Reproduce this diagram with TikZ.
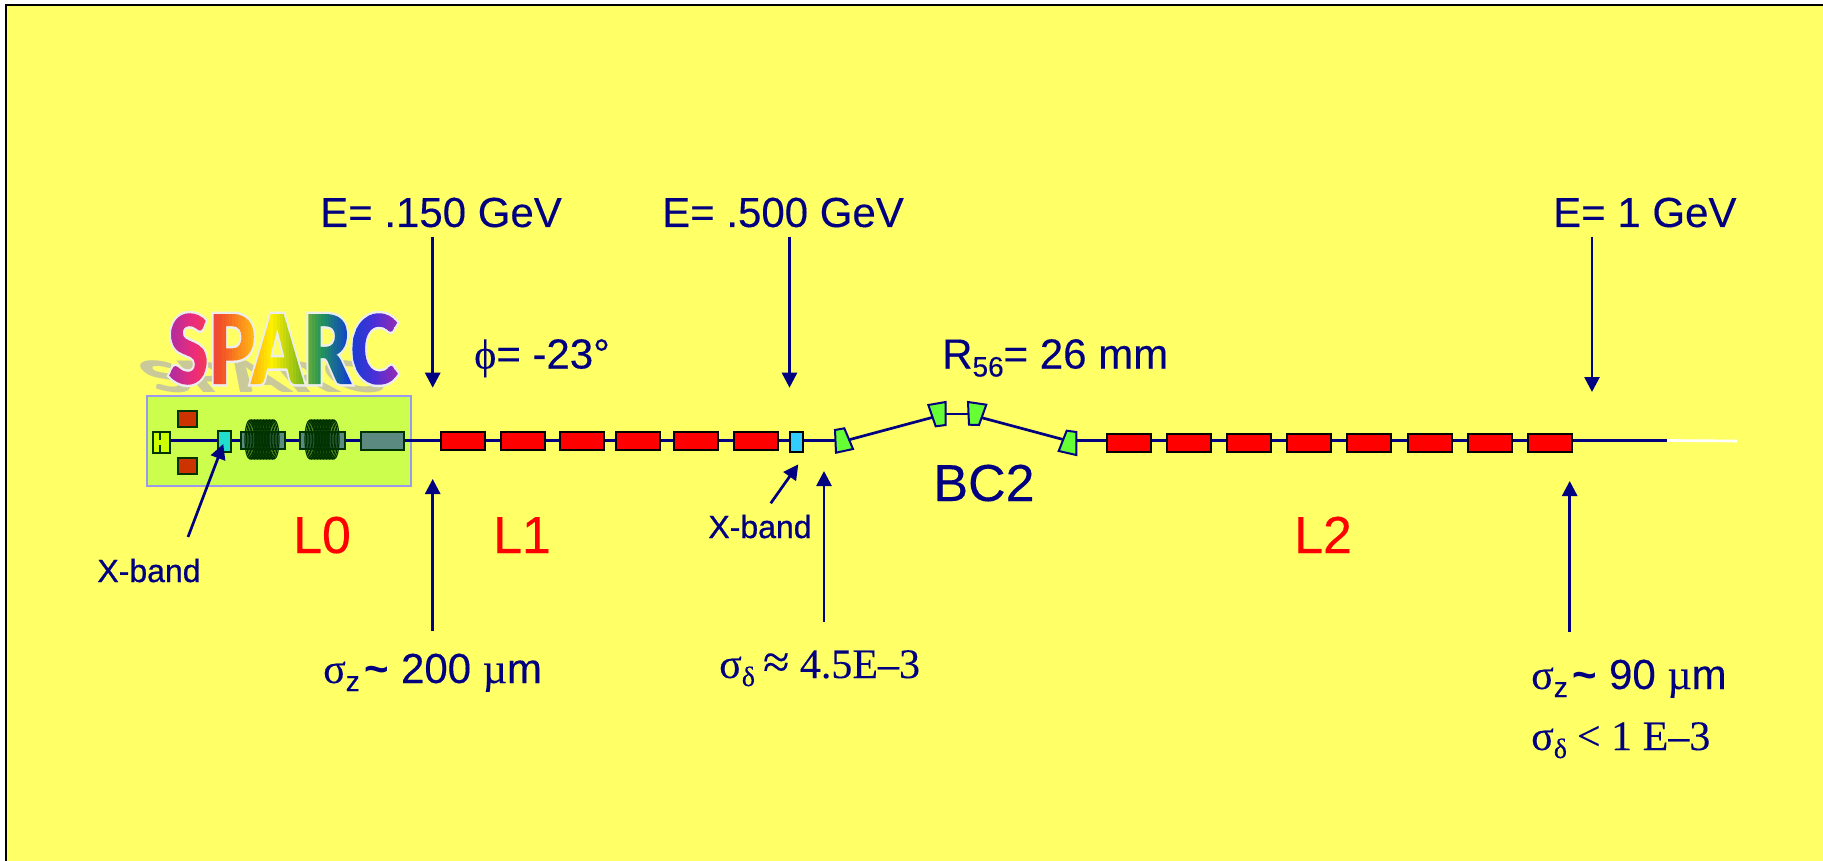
\documentclass[tikz,border=0pt]{standalone}
\usepackage{fontspec}
\setmainfont{Liberation Sans}[FakeBold=0.25]
\newfontfamily\serfont{Liberation Serif}[FakeBold=0.15]
\newfontfamily\xbfont{Liberation Sans}[FakeBold=0.8]
\newfontfamily\tilfont{Liberation Sans Bold}
\newfontfamily\artfont{Lato Black}
\usetikzlibrary{arrows.meta}
\definecolor{bg}{HTML}{FFFF66}
\definecolor{navyc}{HTML}{000080}
\definecolor{boxg}{HTML}{CCFF4D}
\definecolor{boxb}{HTML}{9999EE}
\definecolor{dkg}{HTML}{003300}
\definecolor{solg}{HTML}{5A8A80}
\definecolor{redm}{HTML}{CC3300}
\definecolor{shad}{HTML}{C9C99A}
\definecolor{artline}{HTML}{EDEDED}
\definecolor{gA}{HTML}{B02CA0}\definecolor{gB}{HTML}{EE2C78}\definecolor{gC}{HTML}{F25028}
\definecolor{gD}{HTML}{FFA018}\definecolor{gE}{HTML}{FFF000}\definecolor{gF}{HTML}{90C018}
\definecolor{gG}{HTML}{209060}\definecolor{gH}{HTML}{1040D0}\definecolor{gI}{HTML}{4830D8}\definecolor{gJ}{HTML}{9C2CB0}
\newcommand{\fs}[1]{\fontsize{#1}{#1}\selectfont}
\newcommand{\subs}[1]{\raisebox{-8pt}{\fs{28}#1}}
\newcommand{\tild}{\kern5pt{\tilfont\char"7E}}
\newsavebox{\sparcbox}
\newlength{\stripw}
\newcommand{\gradseg}[2]{\foreach \p in {0,12.5,...,87.5}{\textcolor{#2!\p!#1}{\rule[-15pt]{\dimexpr\stripw+0.4pt}{115pt}}\kern-0.4pt}}
\newcommand{\sparcart}{%
  \sbox{\sparcbox}{\fs{96}\artfont\color{artline}SPARC}%
  \setlength{\stripw}{\dimexpr\wd\sparcbox/72}%
  \hbox{\color{artline}\special{pdf:code q 5 Tr 5 w}\usebox{\sparcbox}\special{pdf:code 0 Tr}%
  \kern-\wd\sparcbox
  \gradseg{gA}{gB}\gradseg{gB}{gC}\gradseg{gC}{gD}\gradseg{gD}{gE}\gradseg{gE}{gF}\gradseg{gF}{gG}\gradseg{gG}{gH}\gradseg{gH}{gI}\gradseg{gI}{gJ}%
  \special{pdf:code Q}}}
\tikzset{
  lab/.style={anchor=base west,inner sep=0pt,text=navyc,font=\fs{42}},
  redlab/.style={anchor=base,inner sep=0pt,text=red,font=\fs{52}},
  xlab/.style={anchor=base,inner sep=0pt,text=navyc,font=\fs{32}\xbfont},
  beam/.style={navyc,line width=2.7pt},
  arr/.style={navyc,line width=2.7pt,-{Triangle[length=15pt,width=15pt]}},
  rfbox/.style={draw=black,line width=2pt,fill=red,minimum width=44pt,minimum height=18pt,inner sep=0pt},
  dip/.style={draw=navyc,line width=2pt,fill={rgb,255:red,102;green,255;blue,51},line join=miter},
  lzero/.style={draw=dkg,line width=2pt},
  coil/.style={draw=dkg,line width=1.2pt},
}
\begin{document}
\begin{tikzpicture}[x=1pt,y=-1pt]
\useasboundingbox (0,0) rectangle (1823,861);
\fill[white] (0,0) rectangle (1823,861);
\fill[bg] (6,5) rectangle (1823,861);
\draw[black,line width=2pt] (6,861) -- (6,5) -- (1823,5);
% wordart
\node[anchor=base west,inner sep=0pt,text=shad,font=\fs{96}\artfont,xslant=-0.85,transform shape] (sparcshadow) at (158,392) {\scalebox{0.76}[0.45]{SPARC}};
\node[anchor=base west,inner sep=0pt,xscale=0.76,transform shape] (sparc) at (168,384) {\sparcart};
% L0 enclosure
\node[draw=boxb,line width=2pt,fill=boxg,minimum width=264pt,minimum height=90pt,inner sep=0pt,anchor=north west] (lzbox) at (146,395) {};
% beamline
\coordinate (bs) at (171,440.5);
\coordinate (be) at (1667,440.5);
\coordinate (we) at (1737,441);
\coordinate (d1) at (850,439.5);
\coordinate (d2) at (935,416.7);
\coordinate (d3) at (981.7,417.7);
\coordinate (d4) at (1065,440);
\draw[beam] (bs) -- (840,440.5);
\draw[beam] (d1) -- (d2);
\draw[beam] (940,414) -- (975,414);
\draw[beam] (d3) -- (d4);
\draw[beam] (1070,440.5) -- (be);
\draw[white,line width=2.7pt] (be) -- (we);
% L0 parts
\node[lzero,fill={rgb,255:red,204;green,255;blue,0},minimum width=17pt,minimum height=21pt,inner sep=0pt] (gun) at (161.7,442) {};
\draw[dkg,line width=1.6pt] (160,431)--(160,440) (160,445)--(160,453);
\node[lzero,fill=redm,minimum width=19pt,minimum height=16pt,inner sep=0pt] (mA) at (187,418.7) {};
\node[lzero,fill=redm,minimum width=19pt,minimum height=16pt,inner sep=0pt] (mB) at (187,465.5) {};
\node[lzero,fill={rgb,255:red,34;green,221;blue,204},minimum width=13pt,minimum height=21pt,inner sep=0pt] (xa) at (224,441.8) {};
\node[lzero,fill=solg,minimum width=44pt,minimum height=17pt,inner sep=0pt] (solA) at (262.5,440) {};
\foreach \x in {250,251.5,...,274}{\draw[coil] (\x,439.5) ellipse (5 and 19.5);}
\node[lzero,fill=solg,minimum width=45pt,minimum height=17pt,inner sep=0pt] (solB) at (322,440) {};
\foreach \x in {310,311.5,...,334}{\draw[coil] (\x,439.5) ellipse (5 and 19.5);}
\node[lzero,fill=solg,minimum width=43pt,minimum height=18pt,inner sep=0pt] (tws) at (382,440.5) {};
% L1
\node[rfbox] (a1) at (463,440.8) {};
\node[rfbox] (a2) at (522.5,440.8) {};
\node[rfbox] (a3) at (582,440.8) {};
\node[rfbox] (a4) at (638,440.8) {};
\node[rfbox] (a5) at (696,440.8) {};
\node[rfbox] (a6) at (756,440.8) {};
\node[draw=black,line width=2pt,fill={rgb,255:red,51;green,204;blue,255},minimum width=13pt,minimum height=20pt,inner sep=0pt] (xb) at (796,441.5) {};
% dipoles
\filldraw[dip] (835,430)--(844.3,428.3)--(853,449)--(836,452.7)--cycle;
\filldraw[dip] (928.3,405)--(945.7,402)--(945.7,425)--(935.7,426.3)--cycle;
\filldraw[dip] (968,402)--(986.3,404.7)--(979,425)--(969,424.7)--cycle;
\filldraw[dip] (1066.7,430.7)--(1076.3,432)--(1076.3,455)--(1058.7,451)--cycle;
% L2
\node[rfbox] (b1) at (1129,442.5) {};
\node[rfbox] (b2) at (1189,442.5) {};
\node[rfbox] (b3) at (1248.7,442.5) {};
\node[rfbox] (b4) at (1308.5,442.5) {};
\node[rfbox] (b5) at (1369,442.5) {};
\node[rfbox] (b6) at (1430,442.5) {};
\node[rfbox] (b7) at (1490,442.5) {};
\node[rfbox] (b8) at (1550,442.5) {};
% labels
\node[lab] (e1) at (320,227) {E= .150 GeV};
\node[lab] (e2) at (662,227) {E= .500 GeV};
\node[lab] (e3) at (1553,227) {E= 1 GeV};
\node[lab] (phi) at (474,368.5) {{\serfont ϕ}= -23°};
\node[lab] (r56) at (942,368.5) {R\subs{56}= 26 mm};
\node[redlab] (l0) at (322,553) {L0};
\node[redlab] (l1) at (522,553) {L1};
\node[redlab] (l2) at (1323,553) {L2};
\node[anchor=base,inner sep=0pt,text=navyc,font=\fs{52}] (bc2) at (984,501) {BC2};
\node[xlab] (xl1) at (149,582) {X-band};
\node[xlab] (xl2) at (760,538) {X-band};
\node[lab] (sz1) at (323,683) {{\serfont σ}\subs{z}\tild{} 200 {\serfont µ}m};
\node[lab] (sd1) at (719,678) {\serfont σ\subs{δ}\kern8pt{\fs{48}≈} 4.5E–3};
\node[lab] (sz2) at (1531,689) {{\serfont σ}\subs{z}\tild{} 90 {\serfont µ}m};
\node[lab] (sd2) at (1531,750) {\serfont σ\subs{δ}\kern10pt< 1 E–3};
% arrows
\coordinate (t1) at (432.7,237); \coordinate (h1) at (432.7,387.7);
\coordinate (t2) at (789.5,237); \coordinate (h2) at (789.5,387.7);
\coordinate (t3) at (1592,237); \coordinate (h3) at (1592,392);
\coordinate (t4) at (432.7,631); \coordinate (h4) at (432.7,479);
\coordinate (t5) at (824,621.7); \coordinate (h5) at (824,471);
\coordinate (t6) at (1569.7,631.7); \coordinate (h6) at (1569.7,481);
\coordinate (t7) at (188,537); \coordinate (h7) at (223.3,444);
\coordinate (t8) at (770.7,503.3); \coordinate (h8) at (798.3,464.3);
\foreach \i in {1,...,8}{\draw[arr] (t\i) -- (h\i);}
\end{tikzpicture}
\end{document}
